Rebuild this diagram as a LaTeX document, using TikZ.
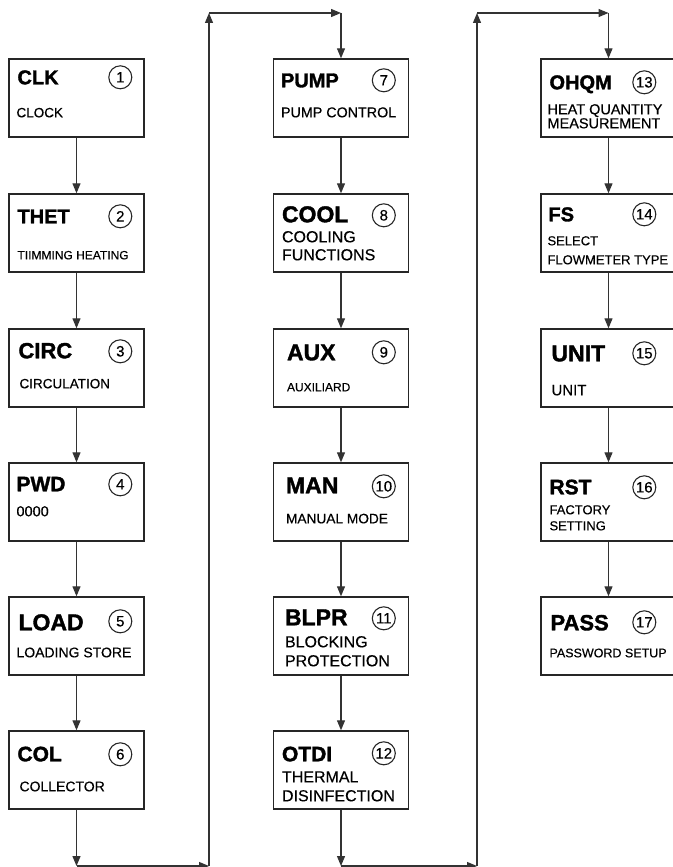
\documentclass[tikz,border=0pt]{standalone}
\usepackage{fontspec}
\setmainfont{Liberation Sans}
\newfontfamily\heavyfont{Liberation Sans Bold}[FakeBold=1.6]
\newfontfamily\labelfont{Liberation Sans}[FakeBold=0.4]
\usetikzlibrary{positioning,arrows.meta,calc}

\begin{document}
\begin{tikzpicture}[x=1pt,y=-1pt,
    menu/.style={draw=black!85,line width=1.4pt,minimum width=135pt,minimum height=78pt,inner sep=0pt},
    ttl/.style={inner sep=0pt,anchor=base west,font=\heavyfont\fontsize{#1}{#1}\selectfont},
    ttl/.default=20,
    sub/.style={inner sep=0pt,anchor=base west,font=\labelfont\fontsize{#1}{#1}\selectfont},
    sub/.default=14,
    num/.style={circle,draw=black!85,line width=1.1pt,minimum size=23pt,inner sep=0pt,font=\labelfont\fontsize{15}{15}\selectfont},
    flow/.style={draw=black!80,line width=1.2pt,-{Triangle[length=10pt,width=8pt]}}]
  \useasboundingbox (0,0) rectangle (672,867);
  % column 1
  \node[menu] (clk) at (76.5,98) {};
  \node[ttl] (clkT) at ($(clk.north west)+(9,26)$) {CLK};
  \node[num] (clkN) at ($(clk.north west)+(112,19)$) {1};
  \node[sub=13.5] (clkS) at ($(clk.north west)+(8,59)$) {CLOCK};

  \node[menu] (thet) at (76.5,233) {};
  \node[ttl] (thetT) at ($(thet.north west)+(9,30)$) {THET};
  \node[num] (thetN) at ($(thet.north west)+(112,23)$) {2};
  \node[sub=12] (thetS) at ($(thet.north west)+(9,66)$) {TIIMMING HEATING};

  \node[menu] (circ) at (76.5,368) {};
  \node[ttl=22] (circT) at ($(circ.north west)+(10,30)$) {CIRC};
  \node[num] (circN) at ($(circ.north west)+(112,23)$) {3};
  \node[sub=13.5] (circS) at ($(circ.north west)+(11,60)$) {CIRCULATION};

  \node[menu] (pwd) at (76.5,502) {};
  \node[ttl=21] (pwdT) at ($(pwd.north west)+(8,29)$) {PWD};
  \node[num] (pwdN) at ($(pwd.north west)+(112,22)$) {4};
  \node[sub=14.5] (pwdS) at ($(pwd.north west)+(8,54)$) {0000};

  \node[menu] (load) at (76.5,636) {};
  \node[ttl=23] (loadT) at ($(load.north west)+(10,34)$) {LOAD};
  \node[num] (loadN) at ($(load.north west)+(112,25)$) {5};
  \node[sub=14] (loadS) at ($(load.north west)+(8,61)$) {LOADING STORE};

  \node[menu] (col) at (76.5,770) {};
  \node[ttl=21] (colT) at ($(col.north west)+(9,31)$) {COL};
  \node[num] (colN) at ($(col.north west)+(112,24)$) {6};
  \node[sub=14] (colS) at ($(col.north west)+(11,61)$) {COLLECTOR};

  % column 2
  \node[menu] (pump) at (341,98) {};
  \node[ttl] (pumpT) at ($(pump.north west)+(8,29)$) {PUMP};
  \node[num] (pumpN) at ($(pump.north west)+(111,22)$) {7};
  \node[sub=14.3] (pumpS) at ($(pump.north west)+(8,59)$) {PUMP CONTROL};

  \node[menu] (cool) at (341,233) {};
  \node[ttl=23] (coolT) at ($(cool.north west)+(9,29)$) {COOL};
  \node[num] (coolN) at ($(cool.north west)+(111,22)$) {8};
  \node[sub=16] (coolS) at ($(cool.north west)+(9,49)$) {COOLING};
  \node[sub=16] (coolS2) at ($(cool.north west)+(9,67)$) {FUNCTIONS};

  \node[menu] (aux) at (341,368) {};
  \node[ttl=23] (auxT) at ($(aux.north west)+(14,32)$) {AUX};
  \node[num] (auxN) at ($(aux.north west)+(111,24)$) {9};
  \node[sub=12] (auxS) at ($(aux.north west)+(14,63)$) {AUXILIARD};

  \node[menu] (man) at (341,502) {};
  \node[ttl=23] (manT) at ($(man.north west)+(13,31)$) {MAN};
  \node[num] (manN) at ($(man.north west)+(111,24)$) {10};
  \node[sub=13.7] (manS) at ($(man.north west)+(13,61)$) {MANUAL MODE};

  \node[menu] (blpr) at (341,636) {};
  \node[ttl=23] (blprT) at ($(blpr.north west)+(12,29)$) {BLPR};
  \node[num] (blprN) at ($(blpr.north west)+(111,22)$) {11};
  \node[sub=16] (blprS) at ($(blpr.north west)+(12,51)$) {BLOCKING};
  \node[sub=16] (blprS2) at ($(blpr.north west)+(12,70)$) {PROTECTION};

  \node[menu] (otdi) at (341,770) {};
  \node[ttl=21] (otdiT) at ($(otdi.north west)+(9,31)$) {OTDI};
  \node[num] (otdiN) at ($(otdi.north west)+(111,23)$) {12};
  \node[sub=16] (otdiS) at ($(otdi.north west)+(9,52)$) {THERMAL};
  \node[sub=16] (otdiS2) at ($(otdi.north west)+(9,71)$) {DISINFECTION};

  % column 3
  \node[menu] (ohqm) at (608.5,98) {};
  \node[ttl] (ohqmT) at ($(ohqm.north west)+(9,31)$) {OHQM};
  \node[num] (ohqmN) at ($(ohqm.north west)+(104,24)$) {13};
  \node[sub=14.5] (ohqmS) at ($(ohqm.north west)+(7,56)$) {HEAT QUANTITY};
  \node[sub=14.5] (ohqmS2) at ($(ohqm.north west)+(7,70)$) {MEASUREMENT};

  \node[menu] (fs) at (608.5,233) {};
  \node[ttl] (fsT) at ($(fs.north west)+(8,28)$) {FS};
  \node[num] (fsN) at ($(fs.north west)+(104,21)$) {14};
  \node[sub=13] (fsS) at ($(fs.north west)+(7,52)$) {SELECT};
  \node[sub=13] (fsS2) at ($(fs.north west)+(7,71)$) {FLOWMETER TYPE};

  \node[menu] (unit) at (608.5,368) {};
  \node[ttl=23] (unitT) at ($(unit.north west)+(11,33)$) {UNIT};
  \node[num] (unitN) at ($(unit.north west)+(104,25)$) {15};
  \node[sub=15] (unitS) at ($(unit.north west)+(11,67)$) {UNIT};

  \node[menu] (rst) at (608.5,502) {};
  \node[ttl=21] (rstT) at ($(rst.north west)+(9,32)$) {RST};
  \node[num] (rstN) at ($(rst.north west)+(104,25)$) {16};
  \node[sub=13] (rstS) at ($(rst.north west)+(9,52)$) {FACTORY};
  \node[sub=13] (rstS2) at ($(rst.north west)+(9,68)$) {SETTING};

  \node[menu] (pass) at (608.5,636) {};
  \node[ttl=22] (passT) at ($(pass.north west)+(10,34)$) {PASS};
  \node[num] (passN) at ($(pass.north west)+(104,26)$) {17};
  \node[sub=12.5] (passS) at ($(pass.north west)+(9,61)$) {PASSWORD SETUP};

  % links inside columns
  \draw[flow] (clk) -- (thet);
  \draw[flow] (thet) -- (circ);
  \draw[flow] (circ) -- (pwd);
  \draw[flow] (pwd) -- (load);
  \draw[flow] (load) -- (col);
  \draw[flow] (pump) -- (cool);
  \draw[flow] (cool) -- (aux);
  \draw[flow] (aux) -- (man);
  \draw[flow] (man) -- (blpr);
  \draw[flow] (blpr) -- (otdi);
  \draw[flow] (ohqm) -- (fs);
  \draw[flow] (fs) -- (unit);
  \draw[flow] (unit) -- (rst);
  \draw[flow] (rst) -- (pass);

  % column 1 -> column 2
  \coordinate (bot1) at (76.5,866);
  \coordinate (rise1) at (209,866);
  \coordinate (top1) at (209,13);
  \coordinate (drop1) at (341,13);
  \draw[flow] (col) -- (bot1);
  \draw[flow] (bot1) -- (rise1);
  \draw[flow] (rise1) -- (top1);
  \draw[flow] (top1) -- (drop1);
  \draw[flow] (drop1) -- (pump);

  % column 2 -> column 3
  \coordinate (bot2) at (341,866);
  \coordinate (rise2) at (477,866);
  \coordinate (top2) at (477,13);
  \coordinate (drop2) at (608.5,13);
  \draw[flow] (otdi) -- (bot2);
  \draw[flow] (bot2) -- (rise2);
  \draw[flow] (rise2) -- (top2);
  \draw[flow] (top2) -- (drop2);
  \draw[flow] (drop2) -- (ohqm);
\end{tikzpicture}
\end{document}
